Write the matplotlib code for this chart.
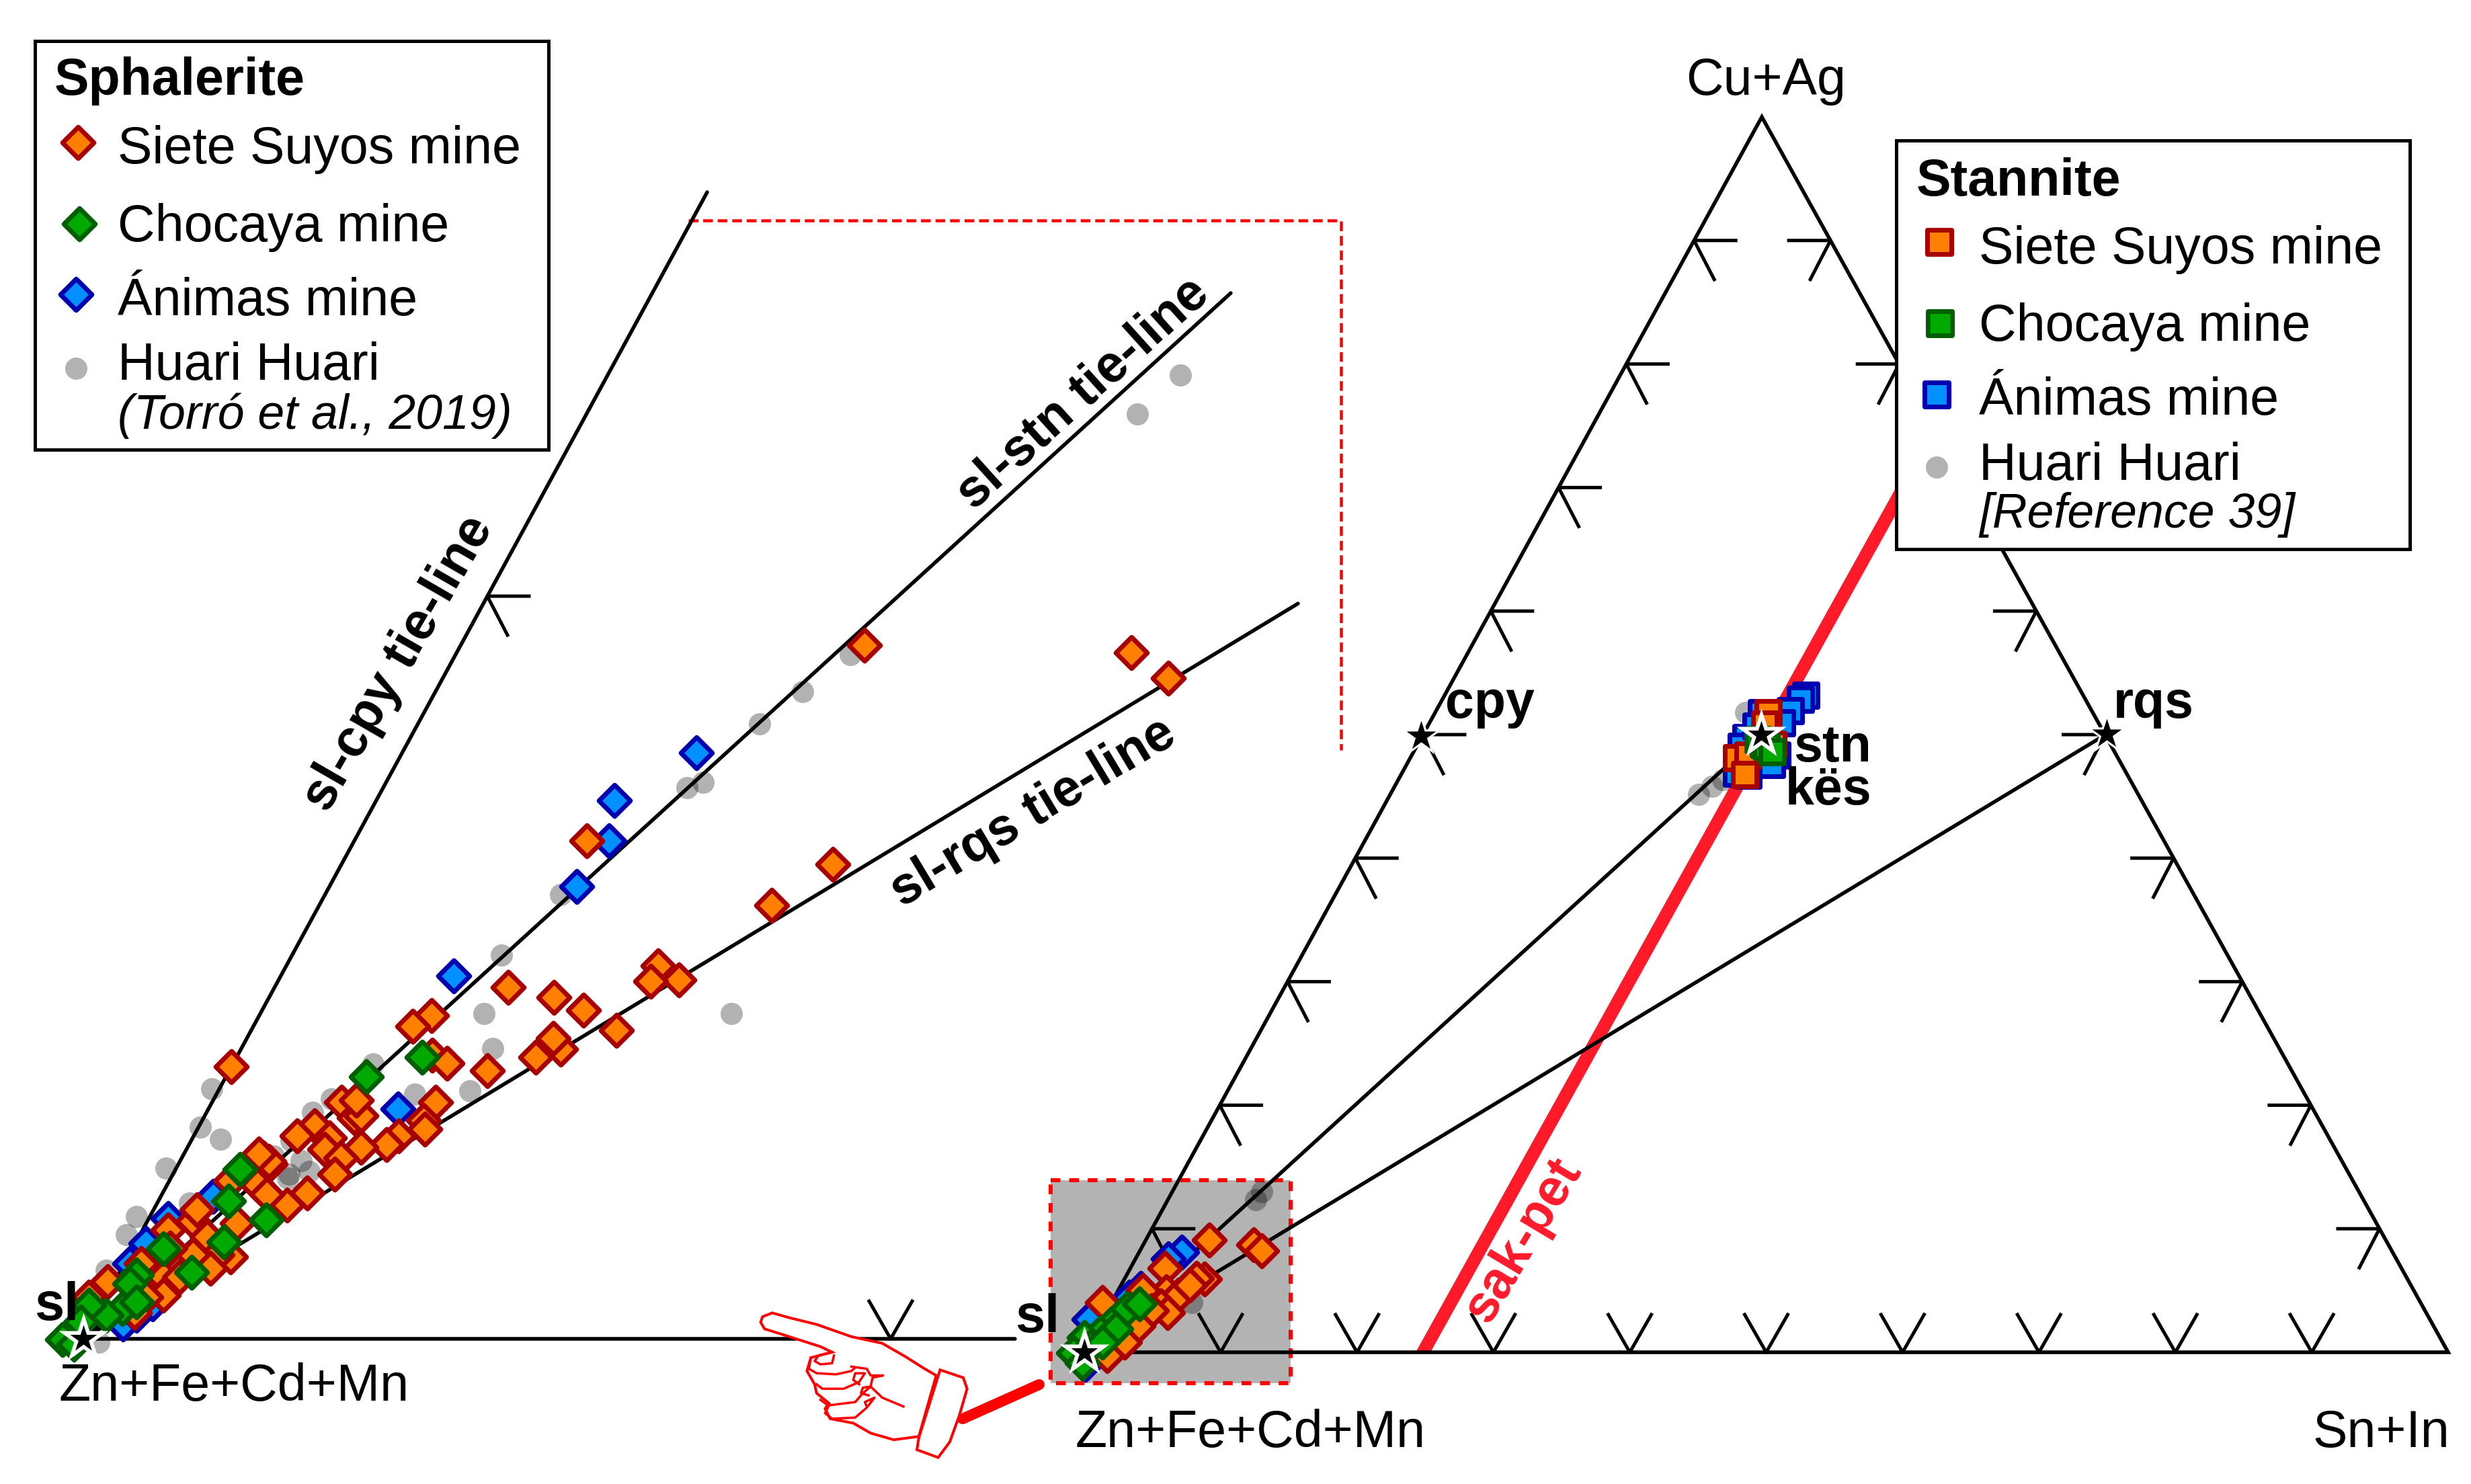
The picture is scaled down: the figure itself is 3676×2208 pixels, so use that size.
import matplotlib
matplotlib.use("Agg")
import matplotlib.pyplot as plt
from matplotlib.patches import Rectangle

plt.rcParams['font.family'] = ['Liberation Sans', 'DejaVu Sans']

# all values, in picture pixels (no numeric axes in the original)
# corners of the main ternary
tri_x = [1613, 3642, 2621]
tri_y = [2012, 2012, 174]
tick_fracs = [0.1, 0.2, 0.3, 0.4, 0.5, 0.6, 0.7, 0.8, 0.9]

# reference phases on the main ternary
sl_main = (1613, 2012)
stn_main = (2620, 1093)
cpy_main = (2114, 1095)
rqs_main = (3134, 1092)
sl_zoom = (124, 1992)

# zoomed sector
cpy_line_end = (1052, 286)
stn_line_end = (1831, 436)
rqs_line_end = (1931, 898)
base_line_end = (1510, 1992)

# sphalerite, zoomed sector
sph_siete_x = [1286, 1683, 1738, 1239, 1148, 873, 979, 1010, 968, 756, 824, 868, 917, 642, 614, 797, 834, 823,
               344, 643, 665, 725, 648, 630, 632, 593, 575, 537, 508, 527, 537, 530, 468, 442, 490, 483, 507, 402, 392, 498,
               400, 385, 383, 343, 457, 427, 397, 287, 293, 308, 343, 323, 353, 287, 250, 210, 243, 267, 243, 217, 200, 160, 132, 253, 313]
sph_siete_y = [960, 971, 1009, 1286, 1347, 1251, 1437, 1458, 1460, 1469, 1484, 1503, 1533, 1511, 1527, 1573, 1561, 1545,
               1587, 1570, 1582, 1593, 1640, 1667, 1680, 1690, 1703, 1707, 1640, 1663, 1660, 1637, 1675, 1690, 1693, 1710, 1723, 1732, 1723, 1747,
               1728, 1717, 1763, 1757, 1775, 1793, 1777, 1817, 1800, 1840, 1870, 1867, 1820, 1867, 1830, 1880, 1900, 1900, 1927, 1930, 1953, 1907, 1930, 1857, 1887]
sph_chocaya_x = [545, 628, 357, 340, 396, 333, 243, 285, 203, 193, 182, 203, 158, 132, 93, 110, 120]
sph_chocaya_y = [1602, 1573, 1740, 1787, 1815, 1848, 1858, 1893, 1897, 1910, 1947, 1937, 1957, 1942, 1993, 2000, 1967]
sph_animas_x = [1036, 914, 906, 858, 675, 592, 250, 217, 317, 193, 183, 203, 227]
sph_animas_y = [1120, 1191, 1251, 1319, 1452, 1650, 1813, 1850, 1780, 1880, 1970, 1957, 1940]
sph_huari_x = [1756, 1692, 1265, 1194, 1130, 1046, 1022, 834, 746, 720, 1088, 733, 315, 298, 328, 617, 699, 493, 465, 448, 430, 460, 407, 433, 555,
               247, 203, 188, 158, 282, 428, 147]
sph_huari_y = [558, 616, 974, 1029, 1077, 1164, 1172, 1331, 1421, 1508, 1508, 1560, 1620, 1677, 1695, 1628, 1623, 1635, 1655, 1727, 1747, 1743, 1720, 1697, 1583,
               1738, 1810, 1837, 1890, 1790, 1753, 1997]

# sphalerite, main ternary
main_siete_x = [1799, 1865, 1877, 1640, 1733, 1735, 1792, 1780, 1753, 1770, 1727, 1700, 1737, 1713, 1693, 1673, 1647]
main_siete_y = [1845, 1852, 1861, 1938, 1887, 1922, 1903, 1902, 1927, 1912, 1943, 1920, 1953, 1950, 1973, 1997, 2017]
main_chocaya_x = [1677, 1695, 1653, 1637, 1660, 1613, 1597, 1610, 1623, 1640]
main_chocaya_y = [1947, 1940, 1970, 1983, 1977, 1990, 2013, 2028, 2003, 1997]
main_animas_x = [1758, 1738, 1697, 1680, 1620, 1615]
main_animas_y = [1863, 1873, 1917, 1930, 1963, 2030]
main_huari_x = [1877, 1868, 1773, 1620]
main_huari_y = [1773, 1785, 1938, 1967]

# stannite
stn_siete_x = [2630, 2625, 2583, 2600, 2595, 2637]
stn_siete_y = [1060, 1077, 1127, 1123, 1152, 1107]
stn_chocaya_x = [2615, 2623, 2627, 2636]
stn_chocaya_y = [1100, 1107, 1110, 1118]
stn_animas_x = [2686, 2678, 2663, 2620, 2597, 2590, 2583, 2643, 2635, 2600, 2612, 2650]
stn_animas_y = [1034, 1040, 1057, 1060, 1097, 1110, 1150, 1123, 1137, 1153, 1080, 1075]
stn_huari_x = [2527, 2547, 2563, 2597]
stn_huari_y = [1182, 1170, 1160, 1060]

hand_outline = [(85, 768), (130, 790), (200, 820), (290, 875), (370, 905), (430, 965), (480, 1020), (510, 1050),
                (465, 1325), (400, 1340), (340, 1310), (295, 1265), (235, 1245), (222, 1200), (232, 1175),
                (200, 1130), (195, 1090), (175, 1030), (185, 970), (240, 945), (210, 920), (120, 870),
                (65, 840), (55, 810), (60, 785), (85, 768)]
hand_cuff = [(520, 1025), (580, 1060), (590, 1110), (570, 1230), (545, 1350), (515, 1420), (460, 1385), (465, 1330), (520, 1025)]
hand_lines = [
    [(240, 945), (205, 960), (195, 985), (210, 1000), (240, 995), (245, 960)],
    [(185, 970), (180, 1020), (200, 1040), (250, 1045), (290, 1030), (300, 1015)],
    [(200, 1090), (215, 1110), (270, 1110), (310, 1080), (325, 1040), (300, 1040), (295, 1070), (310, 1090)],
    [(210, 1160), (230, 1185), (300, 1170), (320, 1130), (340, 1100), (320, 1105), (315, 1130), (335, 1140)],
    [(232, 1185), (222, 1220), (240, 1245), (300, 1240), (330, 1195), (350, 1150), (325, 1170), (330, 1190)],
    [(340, 1100), (370, 1150), (425, 1190)],
    [(290, 1010), (330, 1020), (340, 1050), (372, 1050), (345, 1060), (340, 1100)],
]

ORANGE, ORANGE_E = '#ff8000', '#a80000'
GREEN, GREEN_E = '#00aa00', '#005f00'
BLUE, BLUE_E = '#0090ff', '#0000b0'
RED = '#ff1a2a'

DPI = 300


def pt(px):
    return px * 72 / DPI


fig = plt.figure(figsize=(3676 / DPI, 2208 / DPI), dpi=DPI)
ax = fig.add_axes([0, 0, 1, 1])
ax.set_xlim(0, 3676)
ax.set_ylim(2208, 0)
ax.axis('off')


def black_line(a, b, z=3, lw=5.5):
    ax.plot([a[0], b[0]], [a[1], b[1]], color='black', lw=pt(lw), zorder=z, solid_capstyle='round')


def tick(x, y, hdir=0):
    # hdir 0: V pointing at the base, 1: arrow on left side, -1: arrow on right side
    if hdir == 0:
        ax.plot([x - 32, x, x + 32], [y - 56, y, y - 56], color='black', lw=pt(5), zorder=3)
    else:
        ax.plot([x + hdir * 62, x, x + hdir * 30], [y, y, y + 58], color='black', lw=pt(5), zorder=3)


def diamonds(x, y, fc, ec, z):
    ax.scatter(x, y, s=pt(33) ** 2, marker='D', c=fc, edgecolors=ec, linewidths=pt(7), zorder=z)


def squares(x, y, fc, ec, z):
    ax.scatter(x, y, s=pt(35) ** 2, marker='s', c=fc, edgecolors=ec, linewidths=pt(7), zorder=z)


def grey_dots(x, y, z=2):
    ax.scatter(x, y, s=pt(33) ** 2, c='black', alpha=0.3, linewidths=0, zorder=z)


def big_star(p, z=8):
    ax.scatter([p[0]], [p[1]], s=pt(78) ** 2, marker='*', c='white', linewidths=0, zorder=z)
    ax.scatter([p[0]], [p[1]], s=pt(42) ** 2, marker='*', c='black', linewidths=0, zorder=z + 0.1)


def small_star(p, z=8):
    ax.scatter([p[0]], [p[1]], s=pt(66) ** 2, marker='*', c='white', linewidths=0, zorder=z)
    ax.scatter([p[0]], [p[1]], s=pt(46) ** 2, marker='*', c='black', linewidths=0, zorder=z + 0.1)


# --- grey box on the main ternary
ax.add_patch(Rectangle((1563, 1756), 357, 302, fc='#b3b3b3', ec='none', zorder=1))
ax.add_patch(Rectangle((1563, 1756), 357, 302, fill=False, ec='#ff0000', lw=pt(6), ls=(0, (2.4, 2.2)), zorder=1.5))

# --- main ternary
ax.plot(tri_x + tri_x[:1], tri_y + tri_y[:1], color='black', lw=pt(5.5), zorder=3, solid_joinstyle='miter')
for f in tick_fracs:
    tick(tri_x[0] + f * (tri_x[1] - tri_x[0]), tri_y[0])
    tick(tri_x[0] + f * (tri_x[2] - tri_x[0]), tri_y[0] + f * (tri_y[2] - tri_y[0]), 1)
    tick(tri_x[1] + f * (tri_x[2] - tri_x[1]), tri_y[1] + f * (tri_y[2] - tri_y[1]), -1)
black_line(sl_main, stn_main)
black_line(sl_main, rqs_main)

# sak-pet join, flat at the base
ax.fill([2106, 2128, 2890, 2868], [2012, 2012, 640, 640], color=RED, lw=0, zorder=2.5)
ax.text(2266, 1845, 'sak-pet', color=RED, fontsize=18.5, fontweight='bold', rotation=59, ha='center', va='center', zorder=4)

grey_dots(main_huari_x, main_huari_y)
grey_dots(stn_huari_x, stn_huari_y)
diamonds(main_animas_x, main_animas_y, BLUE, BLUE_E, 4)
diamonds(main_siete_x, main_siete_y, ORANGE, ORANGE_E, 5)
diamonds(main_chocaya_x, main_chocaya_y, GREEN, GREEN_E, 6)
squares(stn_animas_x, stn_animas_y, BLUE, BLUE_E, 4)
squares(stn_siete_x, stn_siete_y, ORANGE, ORANGE_E, 5)
squares(stn_chocaya_x, stn_chocaya_y, GREEN, GREEN_E, 6)
big_star(sl_main)
big_star(stn_main)
small_star(cpy_main)
small_star(rqs_main)

# --- zoomed sector
black_line(sl_zoom, cpy_line_end)
black_line(sl_zoom, stn_line_end)
black_line(sl_zoom, rqs_line_end)
black_line(sl_zoom, base_line_end)
tick(1325, 1992)
tick(725, 887, 1)
ax.plot([1024, 1995, 1995], [328, 328, 1116], color='#ff0000', lw=pt(4.5), ls=(0, (3.2, 1.6)), zorder=2)

grey_dots(sph_huari_x, sph_huari_y)
diamonds(sph_animas_x, sph_animas_y, BLUE, BLUE_E, 4)
diamonds(sph_siete_x, sph_siete_y, ORANGE, ORANGE_E, 5)
diamonds(sph_chocaya_x, sph_chocaya_y, GREEN, GREEN_E, 6)
big_star(sl_zoom)


# --- hand and pointer
def crop_xy(points):
    return [1100 + p[0] * 0.574 for p in points], [1700 + p[1] * 0.33 for p in points]


hx, hy = crop_xy(hand_outline)
ax.fill(hx, hy, fc='white', ec='#ff0000', lw=pt(4), zorder=9)
cx, cy = crop_xy(hand_cuff)
ax.fill(cx, cy, fc='white', ec='#ff0000', lw=pt(4), zorder=9)
for stroke in hand_lines:
    lx, ly = crop_xy(stroke)
    ax.plot(lx, ly, color='#ff0000', lw=pt(3.5), zorder=9.5)
ax.plot([1432, 1546], [2111, 2060], color='#ff0000', lw=pt(16), zorder=8.5, solid_capstyle='round')

# --- labels
FS = 18.5
ax.text(2627, 141, 'Cu+Ag', fontsize=FS, ha='center', va='baseline')
ax.text(88, 2084, 'Zn+Fe+Cd+Mn', fontsize=FS, ha='left', va='baseline')
ax.text(1600, 2153, 'Zn+Fe+Cd+Mn', fontsize=FS, ha='left', va='baseline')
ax.text(3644, 2153, 'Sn+In', fontsize=FS, ha='right', va='baseline')
ax.text(51, 1964, 'sl', fontsize=19, fontweight='bold', zorder=9)
ax.text(1510, 1982, 'sl', fontsize=19, fontweight='bold', zorder=9)
ax.text(2150, 1068, 'cpy', fontsize=18.5, fontweight='bold', zorder=9)
ax.text(3144, 1068, 'rqs', fontsize=18.5, fontweight='bold', zorder=9)
ax.text(2668, 1133, 'stn', fontsize=18.5, fontweight='bold', zorder=9)
ax.text(2656, 1197, 'kës', fontsize=18.5, fontweight='bold', zorder=9)
ax.text(593, 987, 'sl-cpy tie-line', fontsize=18.5, fontweight='bold', rotation=60, ha='center', va='center', rotation_mode='anchor')
ax.text(1612, 586, 'sl-stn tie-line', fontsize=18.5, fontweight='bold', rotation=42, ha='center', va='center', rotation_mode='anchor')
ax.text(1537, 1209, 'sl-rqs tie-line', fontsize=18.5, fontweight='bold', rotation=31, ha='center', va='center', rotation_mode='anchor')


# --- legends
def legend_box(x0, y0, x1, y1, title, title_x, title_y, text_x, baselines, names, marker_x, marker_y, marker, msize, note):
    ax.add_patch(Rectangle((x0, y0), x1 - x0, y1 - y0, fc='white', ec='black', lw=pt(5), zorder=10))
    ax.text(title_x, title_y, title, fontsize=18.5, fontweight='bold', zorder=11)
    styles = [(ORANGE, ORANGE_E), (GREEN, GREEN_E), (BLUE, BLUE_E)]
    for i, name in enumerate(names):
        ax.text(text_x, baselines[i], name, fontsize=18.5, zorder=11)
        if i < 3:
            ax.scatter([marker_x[i]], [marker_y[i]], s=pt(msize) ** 2, marker=marker, c=styles[i][0],
                       edgecolors=styles[i][1], linewidths=pt(7), zorder=11)
    ax.scatter([marker_x[3]], [marker_y[3]], s=pt(33) ** 2, c='black', alpha=0.3, linewidths=0, zorder=11)
    ax.text(text_x, baselines[4], note, fontsize=17.2, style='italic', zorder=11)


mine_names = ['Siete Suyos mine', 'Chocaya mine', 'Ánimas mine', 'Huari Huari']
legend_box(52, 61, 816, 669, 'Sphalerite', 81, 141, 175, [243, 359, 469, 565, 638], mine_names,
           [116, 118, 113, 113], [212, 333, 438, 548], 'D', 33, '(Torró et al., 2019)')
legend_box(2821, 209, 3585, 817, 'Stannite', 2851, 291, 2944, [392, 507, 617, 714, 785], mine_names,
           [2885, 2886, 2881, 2881], [360, 481, 587, 695], 's', 36, '[Reference 39]')

fig.savefig('out.png', dpi=DPI)
plt.close(fig)
